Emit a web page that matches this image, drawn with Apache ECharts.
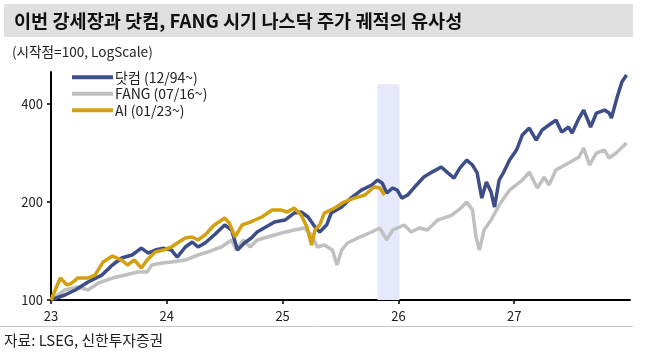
<!DOCTYPE html>
<html>
<head>
<meta charset="utf-8">
<script src="https://cdn.jsdelivr.net/npm/echarts@6/dist/echarts.min.js"></script>
<style>
  html, body { margin: 0; padding: 0; background: #fff; }
  #chart { width: 645px; height: 353px; }
</style>
</head>
<body>
<div id="chart"></div>
<script>
// x 축: AI 시기 기준 연도(23 = 2023년 1월)
const xTicks = [23, 24, 25, 26, 27];
const yTicks = [100, 200, 400];

// 닷컴 (12/94~)
const dotcomX = [23.00, 23.12, 23.21, 23.32, 23.44, 23.53, 23.61, 23.70, 23.78, 23.84, 23.90, 23.97, 24.04, 24.09, 24.16, 24.22, 24.27, 24.33,
  24.41, 24.50, 24.56, 24.61, 24.67, 24.73, 24.78, 24.84, 24.93, 25.02, 25.10, 25.16, 25.22, 25.28, 25.32, 25.38, 25.42, 25.51, 25.59,
  25.68, 25.77, 25.82, 25.86, 25.90, 25.95, 25.99, 26.03, 26.08, 26.14, 26.22, 26.29, 26.37, 26.42, 26.48, 26.53, 26.59, 26.64, 26.68,
  26.72, 26.76, 26.80, 26.83, 26.87, 26.91, 26.96, 27.02, 27.07, 27.13, 27.19, 27.24, 27.30, 27.36, 27.41, 27.47, 27.50, 27.56, 27.60,
  27.66, 27.71, 27.78, 27.82, 27.84, 27.89, 27.93, 27.97];
const dotcomY = [100, 103.6, 107.3, 113.6, 119.3, 128.1, 134.6, 137.5, 144.4, 139.4, 142.4, 144.4, 142.4, 135.5, 145.5, 150.7, 145.5, 149.7,
  158.4, 170.0, 164.1, 142.4, 149.7, 155.1, 161.8, 166.4, 173.6, 176.1, 185.0, 186.4, 179.9, 167.6, 161.8, 170.0, 185.0, 193.1, 205.7,
  217.7, 225.6, 233.7, 228.8, 213.2, 220.9, 217.7, 205.7, 210.2, 222.4, 238.7, 247.2, 256.3, 247.2, 237.0, 254.4, 269.2, 259.9, 245.7,
  205.7, 230.5, 214.7, 193.1, 233.7, 247.2, 269.2, 289.0, 321.3, 337.6, 310.1, 332.9, 344.9, 357.3, 328.2, 340.1, 325.9, 362.5, 383.5,
  340.1, 375.5, 383.5, 375.5, 362.5, 421.4, 467.5, 491.3];

// FANG (07/16~)
const fangX = [23.00, 23.12, 23.23, 23.32, 23.41, 23.53, 23.64, 23.75, 23.83, 23.87, 23.96, 24.04, 24.16, 24.27, 24.35, 24.47, 24.56, 24.60,
  24.66, 24.72, 24.78, 24.87, 24.99, 25.10, 25.19, 25.25, 25.30, 25.36, 25.43, 25.47, 25.51, 25.56, 25.65, 25.77, 25.84, 25.90, 25.95,
  26.05, 26.11, 26.18, 26.25, 26.34, 26.46, 26.54, 26.59, 26.64, 26.67, 26.70, 26.74, 26.80, 26.87, 26.96, 27.07, 27.13, 27.20, 27.26,
  27.30, 27.36, 27.47, 27.56, 27.60, 27.65, 27.71, 27.78, 27.82, 27.88, 27.97];
const fangY = [100, 107.3, 109.6, 107.3, 112.8, 116.8, 119.3, 121.9, 121.9, 128.1, 129.9, 130.9, 132.7, 137.5, 140.4, 145.5, 152.9, 142.4,
  152.9, 145.5, 152.9, 156.2, 160.6, 164.1, 166.4, 158.4, 145.5, 147.6, 142.4, 128.1, 142.4, 149.7, 155.1, 161.8, 166.4, 152.9, 164.1,
  170.0, 161.8, 166.4, 164.1, 176.1, 182.4, 191.7, 200.0, 189.0, 156.2, 142.4, 164.1, 176.1, 195.8, 217.7, 233.7, 247.2, 220.9, 238.7,
  225.6, 250.8, 263.6, 275.0, 293.1, 259.9, 283.0, 289.0, 273.1, 283.0, 303.7];

// AI (01/23~)
const aiX = [23.00, 23.08, 23.14, 23.18, 23.23, 23.32, 23.38, 23.45, 23.53, 23.61, 23.66, 23.72, 23.78, 23.83, 23.90, 23.97, 24.04, 24.09,
  24.16, 24.22, 24.27, 24.33, 24.41, 24.50, 24.54, 24.59, 24.65, 24.72, 24.82, 24.91, 24.99, 25.04, 25.10, 25.16, 25.21, 25.25, 25.28,
  25.32, 25.36, 25.45, 25.53, 25.62, 25.71, 25.79, 25.84, 25.88];
const aiY = [100, 116.8, 111.2, 112.8, 116.8, 116.8, 119.3, 130.9, 136.5, 132.7, 128.1, 132.7, 125.4, 132.7, 140.4, 142.4, 145.5, 149.7,
  155.1, 156.2, 152.9, 158.4, 170.0, 178.6, 172.4, 156.2, 170.0, 173.6, 179.9, 189.0, 189.0, 186.4, 191.7, 182.4, 167.6, 147.6, 164.1,
  170.0, 185.0, 191.7, 200.0, 205.7, 210.2, 222.4, 220.9, 210.2];

// 음영 구간
const bandX = [25.82, 26.01];
const bandTop = 460;

const font = '"Noto Sans CJK KR", "Noto Sans", sans-serif';
const lg = v => Math.log2(v / 100);
const pairs = (xs, ys) => xs.map((x, i) => [x, lg(ys[i])]);

const chart = echarts.init(document.getElementById('chart'));

const lineSeries = (name, xs, ys, color, z) => ({
  name,
  type: 'line',
  data: pairs(xs, ys),
  symbol: 'none',
  z,
  lineStyle: { color, width: 3.5 },
  itemStyle: { color }
});

chart.setOption({
  animation: false,
  grid: { left: 51, right: 15, top: 72, bottom: 53 },
  graphic: [
    { type: 'rect', shape: { x: 4, y: 4, width: 629, height: 33 }, style: { fill: '#e0e0e0' } },
    { type: 'text', x: 14, y: 21, style: { text: '이번 강세장과 닷컴, FANG 시기 나스닥 주가 궤적의 유사성', font: 'bold 18.6px ' + font, fill: '#111', textVerticalAlign: 'middle' } },
    { type: 'text', x: 12, y: 52, style: { text: '(시작점=100, LogScale)', font: '13.6px ' + font, fill: '#222', textVerticalAlign: 'middle' } },
    { type: 'line', shape: { x1: 0, y1: 326.5, x2: 633, y2: 326.5 }, style: { stroke: '#c8c8c8', lineWidth: 1 } },
    { type: 'text', x: 4, y: 340, style: { text: '자료: LSEG, 신한투자증권', font: '14.8px ' + font, fill: '#222', textVerticalAlign: 'middle' } }
  ],
  legend: {
    orient: 'vertical',
    left: 67,
    top: 65,
    itemWidth: 41,
    itemHeight: 4,
    itemGap: 2,
    icon: 'rect',
    textStyle: { fontFamily: font, fontSize: 14, color: '#222', lineHeight: 14.5, padding: [0, 0, 0, -3] },
    data: ['닷컴 (12/94~)', 'FANG (07/16~)', 'AI (01/23~)']
  },
  xAxis: {
    type: 'value',
    min: 23,
    max: 28,
    interval: 1,
    splitLine: { show: false },
    axisLine: { lineStyle: { color: '#000', width: 2 } },
    axisTick: { show: true, length: 4, lineStyle: { color: '#000', width: 1.5 }, customValues: xTicks },
    axisLabel: { color: '#222', fontSize: 13, fontFamily: font, margin: 10, customValues: xTicks }
  },
  yAxis: {
    type: 'value',
    min: 0,
    max: lg(502),
    splitLine: { show: false },
    axisLine: { show: true, lineStyle: { color: '#000', width: 2 } },
    axisTick: { show: true, length: 4, lineStyle: { color: '#000', width: 1.5 }, customValues: yTicks.map(lg) },
    axisLabel: {
      color: '#222', fontSize: 13, fontFamily: font, margin: 8,
      customValues: yTicks.map(lg),
      formatter: v => String(Math.round(100 * Math.pow(2, v)))
    }
  },
  series: [
    Object.assign(lineSeries('FANG (07/16~)', fangX, fangY, '#c0c0c0', 2), {
      markArea: {
        silent: true,
        itemStyle: { color: '#e5e9fb' },
        data: [[{ xAxis: bandX[0], yAxis: 0 }, { xAxis: bandX[1], yAxis: lg(bandTop) }]]
      }
    }),
    lineSeries('닷컴 (12/94~)', dotcomX, dotcomY, '#3c4d87', 3),
    lineSeries('AI (01/23~)', aiX, aiY, '#d3a00f', 4)
  ]
});
</script>
</body>
</html>
